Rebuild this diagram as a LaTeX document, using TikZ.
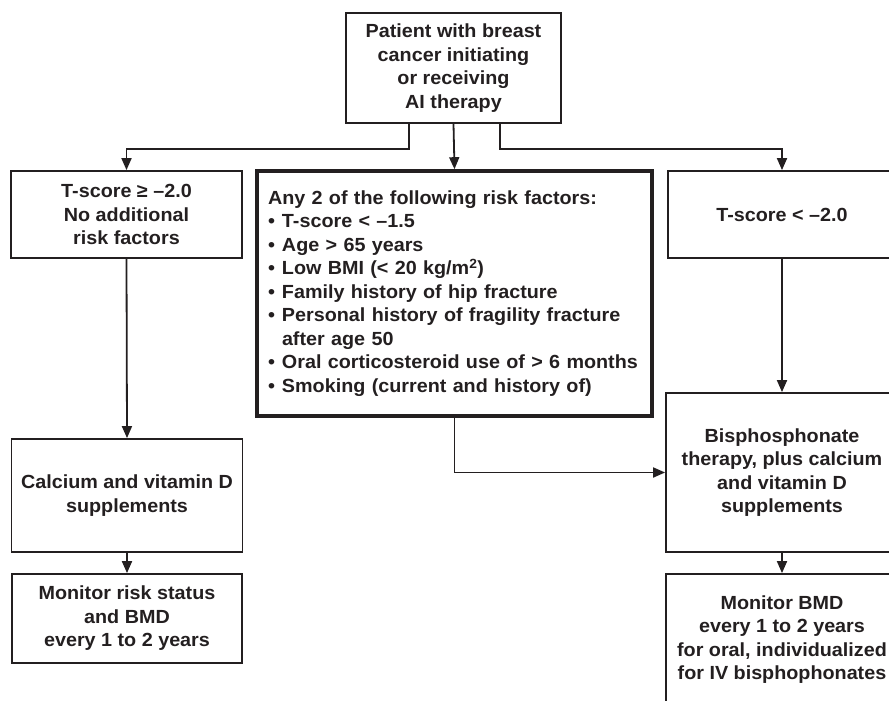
\documentclass[tikz,border=0pt]{standalone}
\usepackage{fontspec}
\setmainfont{Liberation Sans}[FakeStretch=1.04]
\usetikzlibrary{arrows.meta}
\definecolor{ink}{RGB}{35,31,32}
\newcommand{\bul}{\makebox[14pt][l]{•}}
\begin{document}
\begin{tikzpicture}[x=1pt,y=-1pt,
  box/.style={draw=ink, line width=1.8pt, rectangle, inner sep=0pt, align=center,
    text=ink, font=\fontsize{19}{23.5}\selectfont\bfseries},
  thickbox/.style={box, line width=3.6pt, align=left},
  arr/.style={draw=ink, line width=1.8pt, -{Triangle[length=12pt,width=10pt]}}]
\useasboundingbox (0,0) rectangle (889,701);
\clip (0,0) rectangle (889,701);
% nodes
\node[box, minimum width=215pt, minimum height=110pt] (top) at (453.5,68)
  {Patient with breast\\cancer initiating\\or receiving\\AI therapy};
\node[box, minimum width=231pt, minimum height=87pt] (l1) at (126.5,214.5)
  {T-score ≥ –2.0\\No additional\\risk factors};
\node[thickbox, minimum width=395pt, minimum height=245pt, text width=373pt] (m) at (454.5,293.5)
  {Any 2 of the following risk factors:\\
   \bul T-score < –1.5\\
   \bul Age > 65 years\\
   \bul Low BMI (< 20 kg/m\textsuperscript{2})\\
   \bul Family history of hip fracture\\
   \bul Personal history of fragility fracture\\
   \hspace*{14pt}after age 50\\
   \bul Oral corticosteroid use of > 6 months\\
   \bul Smoking (current and history of)};
\node[box, minimum width=228pt, minimum height=87pt] (r1) at (782,214.5)
  {T-score < –2.0};
\node[box, minimum width=231pt, minimum height=113pt] (l2) at (127,495.5)
  {Calcium and vitamin D\\supplements};
\node[box, minimum width=232pt, minimum height=159pt] (r2) at (782,472.5)
  {Bisphosphonate\\therapy, plus calcium\\and vitamin D\\supplements};
\node[box, minimum width=230pt, minimum height=89pt] (l3) at (127,618.5)
  {Monitor risk status\\and BMD\\every 1 to 2 years};
\node[box, minimum width=232pt, minimum height=131pt] (r3) at (782,639.5)
  {Monitor BMD\\every 1 to 2 years\\for oral, individualized\\for IV bisphophonates};
% connectors
\draw[arr] ([xshift=-44.5pt]top.south) -- ++(0,25) -| (l1.north);
\draw[arr] (top.south) -- (m.north);
\draw[arr] ([xshift=46.5pt]top.south) -- ++(0,25) -| (r1.north);
\draw[arr] (l1.south) -- (l2.north);
\draw[arr] (l2.south) -- (l3.north);
\draw[arr] (r1.south) -- (r2.north);
\draw[arr] (r2.south) -- (r3.north);
\draw[arr] (m.south) |- (r2.west);
\end{tikzpicture}
\end{document}
